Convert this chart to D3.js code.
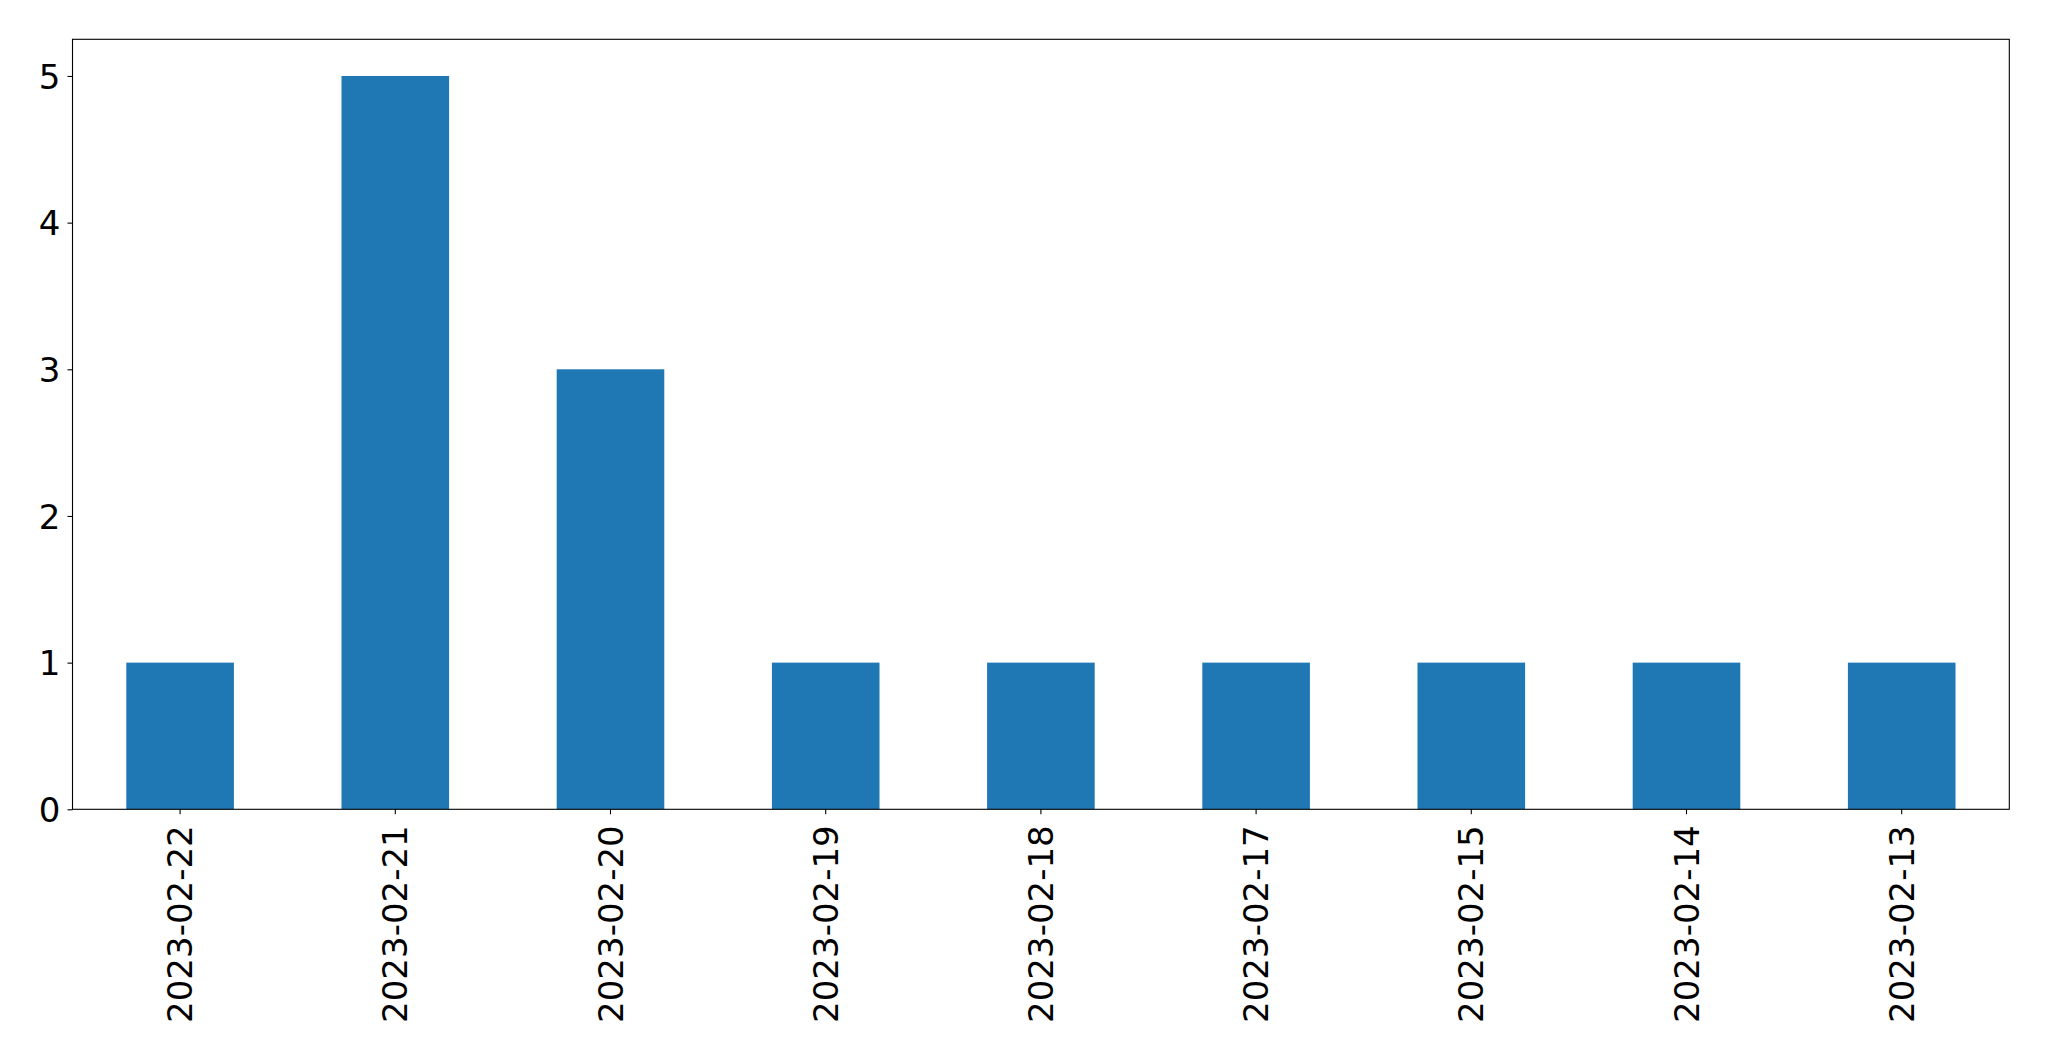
<!DOCTYPE html>
<html>
<head>
<meta charset="utf-8">
<script src="https://cdn.jsdelivr.net/npm/d3@7"></script>
<style>
  html, body { margin: 0; padding: 0; background: #fff; }
  svg { display: block; }
  text { font-family: "DejaVu Sans", sans-serif; fill: #000; }
</style>
</head>
<body>
<script>
const categories = ["2023-02-22", "2023-02-21", "2023-02-20", "2023-02-19", "2023-02-18", "2023-02-17", "2023-02-15", "2023-02-14", "2023-02-13"];
const values = [1, 5, 3, 1, 1, 1, 1, 1, 1];
const yTicks = [0, 1, 2, 3, 4, 5];

const W = 2049, H = 1061;
const mLeft = 72.5, mRight = 2009.3, mTop = 39.3, mBottom = 809.3;

const svg = d3.select("body").append("svg").attr("width", W).attr("height", H);

const x = d3.scaleBand().domain(categories).range([mLeft, mRight]).paddingInner(0.5).paddingOuter(0.25);
const y = d3.scaleLinear().domain([0, 5.25]).range([mBottom, mTop]);

svg.append("g").selectAll("rect").data(values).join("rect")
  .attr("x", (d, i) => x(categories[i]))
  .attr("width", x.bandwidth())
  .attr("y", d => y(d))
  .attr("height", d => y(0) - y(d))
  .attr("fill", "#1f77b4");

const fs = 34;
const yAxis = svg.append("g").attr("transform", `translate(${mLeft},0)`)
  .call(d3.axisLeft(y).tickValues(yTicks).tickSize(5).tickPadding(7).tickFormat(d3.format("d")));
yAxis.select(".domain").remove();
yAxis.selectAll("line").attr("stroke", "#000").attr("stroke-width", 1.1);
yAxis.selectAll("text").attr("font-size", fs).attr("dy", "0.36em");

const xAxis = svg.append("g").attr("transform", `translate(0,${mBottom})`)
  .call(d3.axisBottom(x).tickSize(5).tickPadding(0));
xAxis.select(".domain").remove();
xAxis.selectAll("line").attr("stroke", "#000").attr("stroke-width", 1.1);
xAxis.selectAll("text")
  .attr("font-size", fs)
  .attr("text-anchor", "end")
  .attr("dy", null)
  .attr("y", 0)
  .attr("transform", "translate(0,16) rotate(-90)")
  .attr("dominant-baseline", "central");

svg.append("rect").attr("x", mLeft).attr("y", mTop).attr("width", mRight - mLeft).attr("height", mBottom - mTop)
  .attr("fill", "none").attr("stroke", "#000").attr("stroke-width", 1.1);
</script>
</body>
</html>
